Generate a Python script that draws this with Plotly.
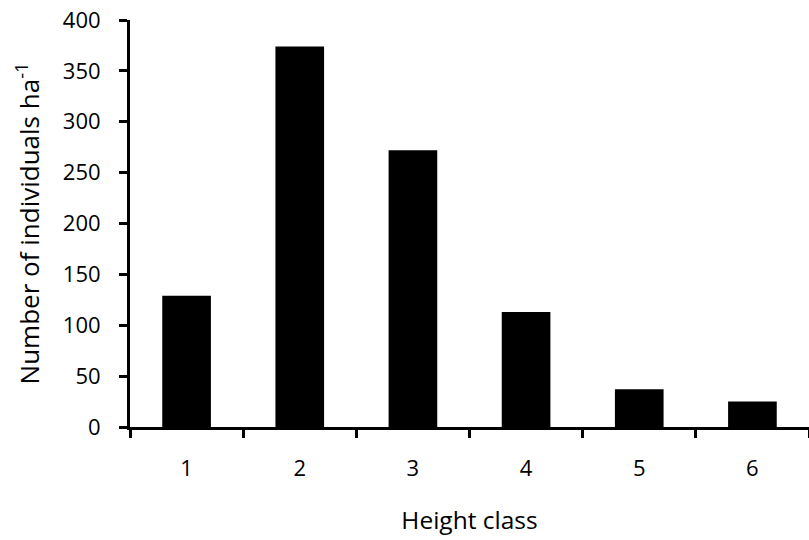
import plotly.graph_objects as go

categories = ["1", "2", "3", "4", "5", "6"]
values = [129, 374, 272, 113, 37, 25]
y_ticks = [0, 50, 100, 150, 200, 250, 300, 350, 400]

FONT = "'Open Sans', Lato, sans-serif"

fig = go.Figure()
fig.add_trace(go.Bar(x=categories, y=values, marker=dict(color="black", line=dict(width=0))))

fig.update_layout(
    width=809, height=540,
    margin=dict(l=130, r=0, t=20, b=113),
    plot_bgcolor="white", paper_bgcolor="white",
    bargap=0.57,
    showlegend=False,
    font=dict(family=FONT, size=23, color="black"),
)
fig.update_xaxes(
    type="category", automargin=False,
    showline=True, linewidth=3, linecolor="black",
    ticks="outside", ticklen=8, tickwidth=3, tickcolor="black",
    tickson="boundaries",
    ticklabelstandoff=20,
    tickfont=dict(family=FONT, size=22),
    showgrid=False, zeroline=False,
    title=dict(text="Height class", font=dict(family=FONT, size=24.5), standoff=31),
)
fig.update_yaxes(
    range=[0, 400], tickvals=y_ticks, automargin=False,
    showline=True, linewidth=3, linecolor="black",
    ticks="outside", ticklen=8, tickwidth=3, tickcolor="black",
    ticklabelstandoff=14, ticklabeloverflow="allow",
    tickfont=dict(family=FONT, size=22),
    showgrid=False, zeroline=False,
    title=dict(text="Number of individuals ha<sup>-1</sup>", font=dict(family=FONT, size=26), standoff=16),
)

fig.write_html(
    "out.html",
    config={"displayModeBar": False},
    post_script="document.body.style.margin='0';document.body.style.overflow='hidden';",
)
